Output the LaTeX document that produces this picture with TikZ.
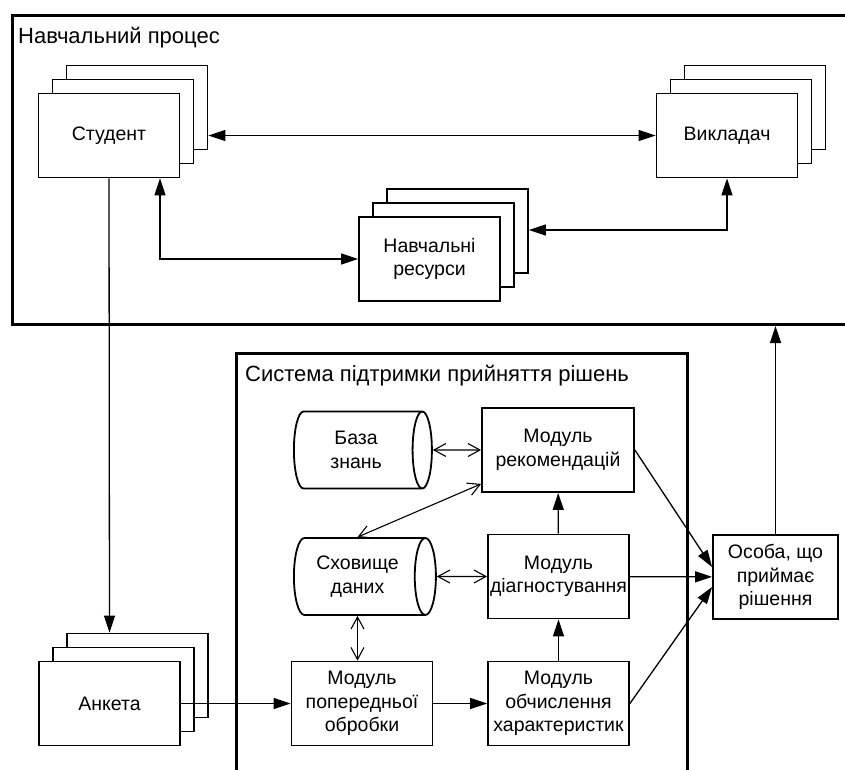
\documentclass[tikz,border=0pt]{standalone}
\usepackage{fontspec}
\setmainfont{Liberation Sans}
\usetikzlibrary{positioning,shapes.geometric,shadows,arrows.meta}

\begin{document}
\begin{tikzpicture}[x=1pt,y=-1pt]
\tikzset{basic/.style={draw,fill=white,line width=1.8pt,align=center,inner sep=2pt,font=\fontsize{19.5}{23.5}\selectfont}}
\tikzset{block/.style={basic,rectangle,minimum width=141pt,minimum height=84pt}}
\tikzset{stack/.style={block,double copy shadow={shadow xshift=14pt,shadow yshift=14pt}}}
\tikzset{store/.style={basic,cylinder,aspect=0.47,minimum width=77pt,minimum height=138pt,anchor=west}}
\tikzset{frame/.style={draw,line width=3pt,anchor=north west,inner sep=0pt}}
\tikzset{title/.style={anchor=base west,inner sep=0pt,font=\fontsize{22}{26}\selectfont}}
\tikzset{arr/.style={line width=1.3pt,arrows={-Triangle[length=17pt,width=11pt]}}}
\tikzset{darr/.style={line width=1.3pt,arrows={Triangle[length=17pt,width=11pt]-Triangle[length=17pt,width=11pt]}}}
\tikzset{oarr/.style={line width=1.1pt,arrows={Straight Barb[length=12pt,width=13pt]-Straight Barb[length=12pt,width=13pt]}}}
\useasboundingbox (0,0) rectangle (845,769);
\clip (0,0) rectangle (845,769);
	\node[frame,minimum width=851pt,minimum height=309pt] (proc) at (11,14) {};
	\node[title] (proct) at (18,43) {Навчальний процес};
	\node[frame,minimum width=451pt,minimum height=440pt] (dss) at (235,352) {};
	\node[title] (dsst) at (245,381) {Система підтримки прийняття рішень};
	\node[stack] (student) at (109,135.5) {Студент};
	\node[stack] (teacher) at (727,135.5) {Викладач};
	\node[stack] (res) at (429.5,259) {Навчальні\\ресурси};
	\node[stack] (form) at (109.5,703.5) {Анкета};
	\node[store] (kb) at (293,450) {База\\знань};
	\node[block,minimum width=152pt] (rec) at (558,450) {Модуль\\рекомендацій};
	\node[store,minimum height=142pt] (dw) at (293,576.5) {Сховище\\даних};
	\node[block] (diag) at (558.5,576.5) {Модуль\\діагностування};
	\node[block] (prep) at (362,703.5) {Модуль\\попередньої\\обробки};
	\node[block] (calc) at (558.5,703.5) {Модуль\\обчислення\\характеристик};
	\node[block,minimum width=125pt] (dm) at (775.5,577) {Особа, що\\приймає\\рішення};
		\draw[darr] ([xshift=28pt]student.east) -- (teacher.west);
		\draw[darr] ([xshift=51pt]student.south) |- (res.west);
		\draw[darr] (teacher.south) |- ([xshift=28pt,yshift=29pt]res.east);
		\draw[arr] (student.south) -- ([yshift=28pt]form.north);
		\draw[arr] (form.east) -- (prep.west);
		\draw[arr] (prep) -- (calc);
		\draw[arr] (calc) -- (diag);
		\draw[arr] (diag) -- (rec);
		\draw[oarr] (kb) -- (rec);
		\draw[oarr] (dw.north) -- ([yshift=9pt]rec.south west);
		\draw[oarr] (dw) -- (diag);
		\draw[oarr] (dw.south) -- (dw.south |- prep.north);
		\draw[arr] (rec.east) -- ([yshift=10pt]dm.west);
		\draw[arr] (diag) -- (dm);
		\draw[arr] (calc.east) -- ([yshift=-10pt]dm.west);
		\draw[arr] (dm.north) -- (dm.north |- proc.south);
\end{tikzpicture}
\end{document}
